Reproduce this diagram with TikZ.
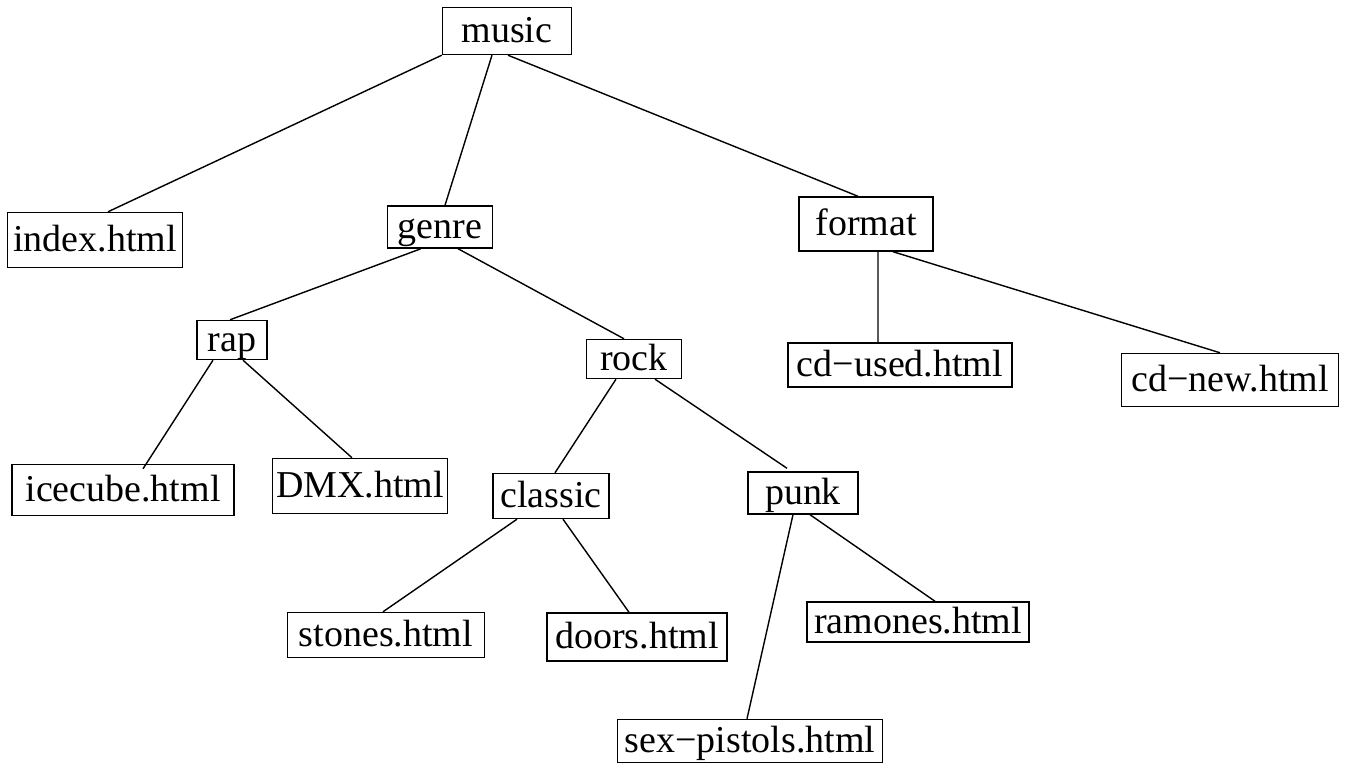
\documentclass[tikz,border=0pt]{standalone}
\usepackage{fontspec}
\setmainfont{Liberation Serif}
\usepackage{tikz}

\begin{document}
\begin{tikzpicture}[x=0.01cm, y=-0.01cm, line width=0.4pt,
    file node/.style={rectangle, draw, inner sep=0pt, minimum height=0.44cm,
      text height=0.31cm, text depth=0.08cm, font=\fontsize{10.8}{13}\selectfont}]

  \useasboundingbox (0,0) rectangle (1351,764);

  % Root
  \node[file node, minimum width=1.29cm, minimum height=0.47cm] (music) at (507,31) {music};

  % Level 1
  \node[file node, minimum width=1.75cm, minimum height=0.55cm] (index) at (95,240) {index.html};
  \node[file node, minimum width=1.05cm, minimum height=0.42cm] (genre) at (440,227) {genre};
  \node[file node, minimum width=1.34cm, minimum height=0.54cm] (format) at (866,224) {format};

  % Level 2
  \node[file node, minimum width=0.70cm, minimum height=0.37cm] (rap) at (232,340) {rap};
  \node[file node, minimum width=0.95cm, minimum height=0.36cm] (rock) at (634,359) {rock};
  \node[file node, minimum width=2.24cm] (cdused) at (900,365) {cd−used.html};
  \node[file node, minimum width=2.17cm, minimum height=0.53cm] (cdnew) at (1230,380) {cd−new.html};

  % Level 3
  \node[file node, minimum width=2.22cm, minimum height=0.51cm] (icecube) at (123,490) {icecube.html};
  \node[file node, minimum width=1.75cm, minimum height=0.55cm] (dmx) at (360,486) {DMX.html};
  \node[file node, minimum width=1.16cm, minimum height=0.45cm] (classic) at (551,496) {classic};
  \node[file node, minimum width=1.10cm, minimum height=0.42cm] (punk) at (803,493) {punk};

  % Level 4
  \node[file node, minimum width=1.97cm, minimum height=0.45cm] (stones) at (386,635) {stones.html};
  \node[file node, minimum width=1.80cm, minimum height=0.48cm] (doors) at (637,637) {doors.html};
  \node[file node, minimum width=2.22cm, minimum height=0.40cm] (ramones) at (918,622) {ramones.html};
  \node[file node, minimum width=2.65cm, minimum height=0.43cm] (sexpistols) at (750,741) {sex−pistols.html};

  % Edges
  \path
    (music.south west) edge ([xshift=0.13cm]index.north)
    ([xshift=-0.15cm]music.south) edge ([xshift=0.05cm]genre.north)
    ([xshift=0.01cm]music.south) edge ([xshift=-0.08cm]format.north)
    ([xshift=-0.19cm]genre.south) edge ([xshift=-0.02cm]rap.north)
    ([xshift=0.18cm]genre.south) edge ([xshift=-0.10cm]rock.north)
    ([xshift=0.12cm]format.south) edge ([xshift=-0.22cm]cdused.north)
    ([xshift=0.27cm]format.south) edge ([xshift=-0.10cm]cdnew.north)
    ([xshift=-0.19cm]rap.south) edge ([xshift=0.20cm,yshift=-0.05cm]icecube.north)
    ([xshift=0.11cm]rap.south) edge ([xshift=-0.08cm]dmx.north)
    ([xshift=-0.18cm]rock.south) edge ([xshift=0.04cm]classic.north)
    ([xshift=0.21cm]rock.south) edge ([xshift=-0.16cm,yshift=0.03cm]punk.north)
    ([xshift=-0.34cm]classic.south) edge ([xshift=-0.03cm]stones.north)
    ([xshift=0.12cm]classic.south) edge ([xshift=-0.08cm]doors.north)
    ([xshift=-0.10cm]punk.south) edge ([xshift=-0.03cm]sexpistols.north)
    ([xshift=0.07cm]punk.south) edge ([xshift=0.17cm]ramones.north);
\end{tikzpicture}
\end{document}
